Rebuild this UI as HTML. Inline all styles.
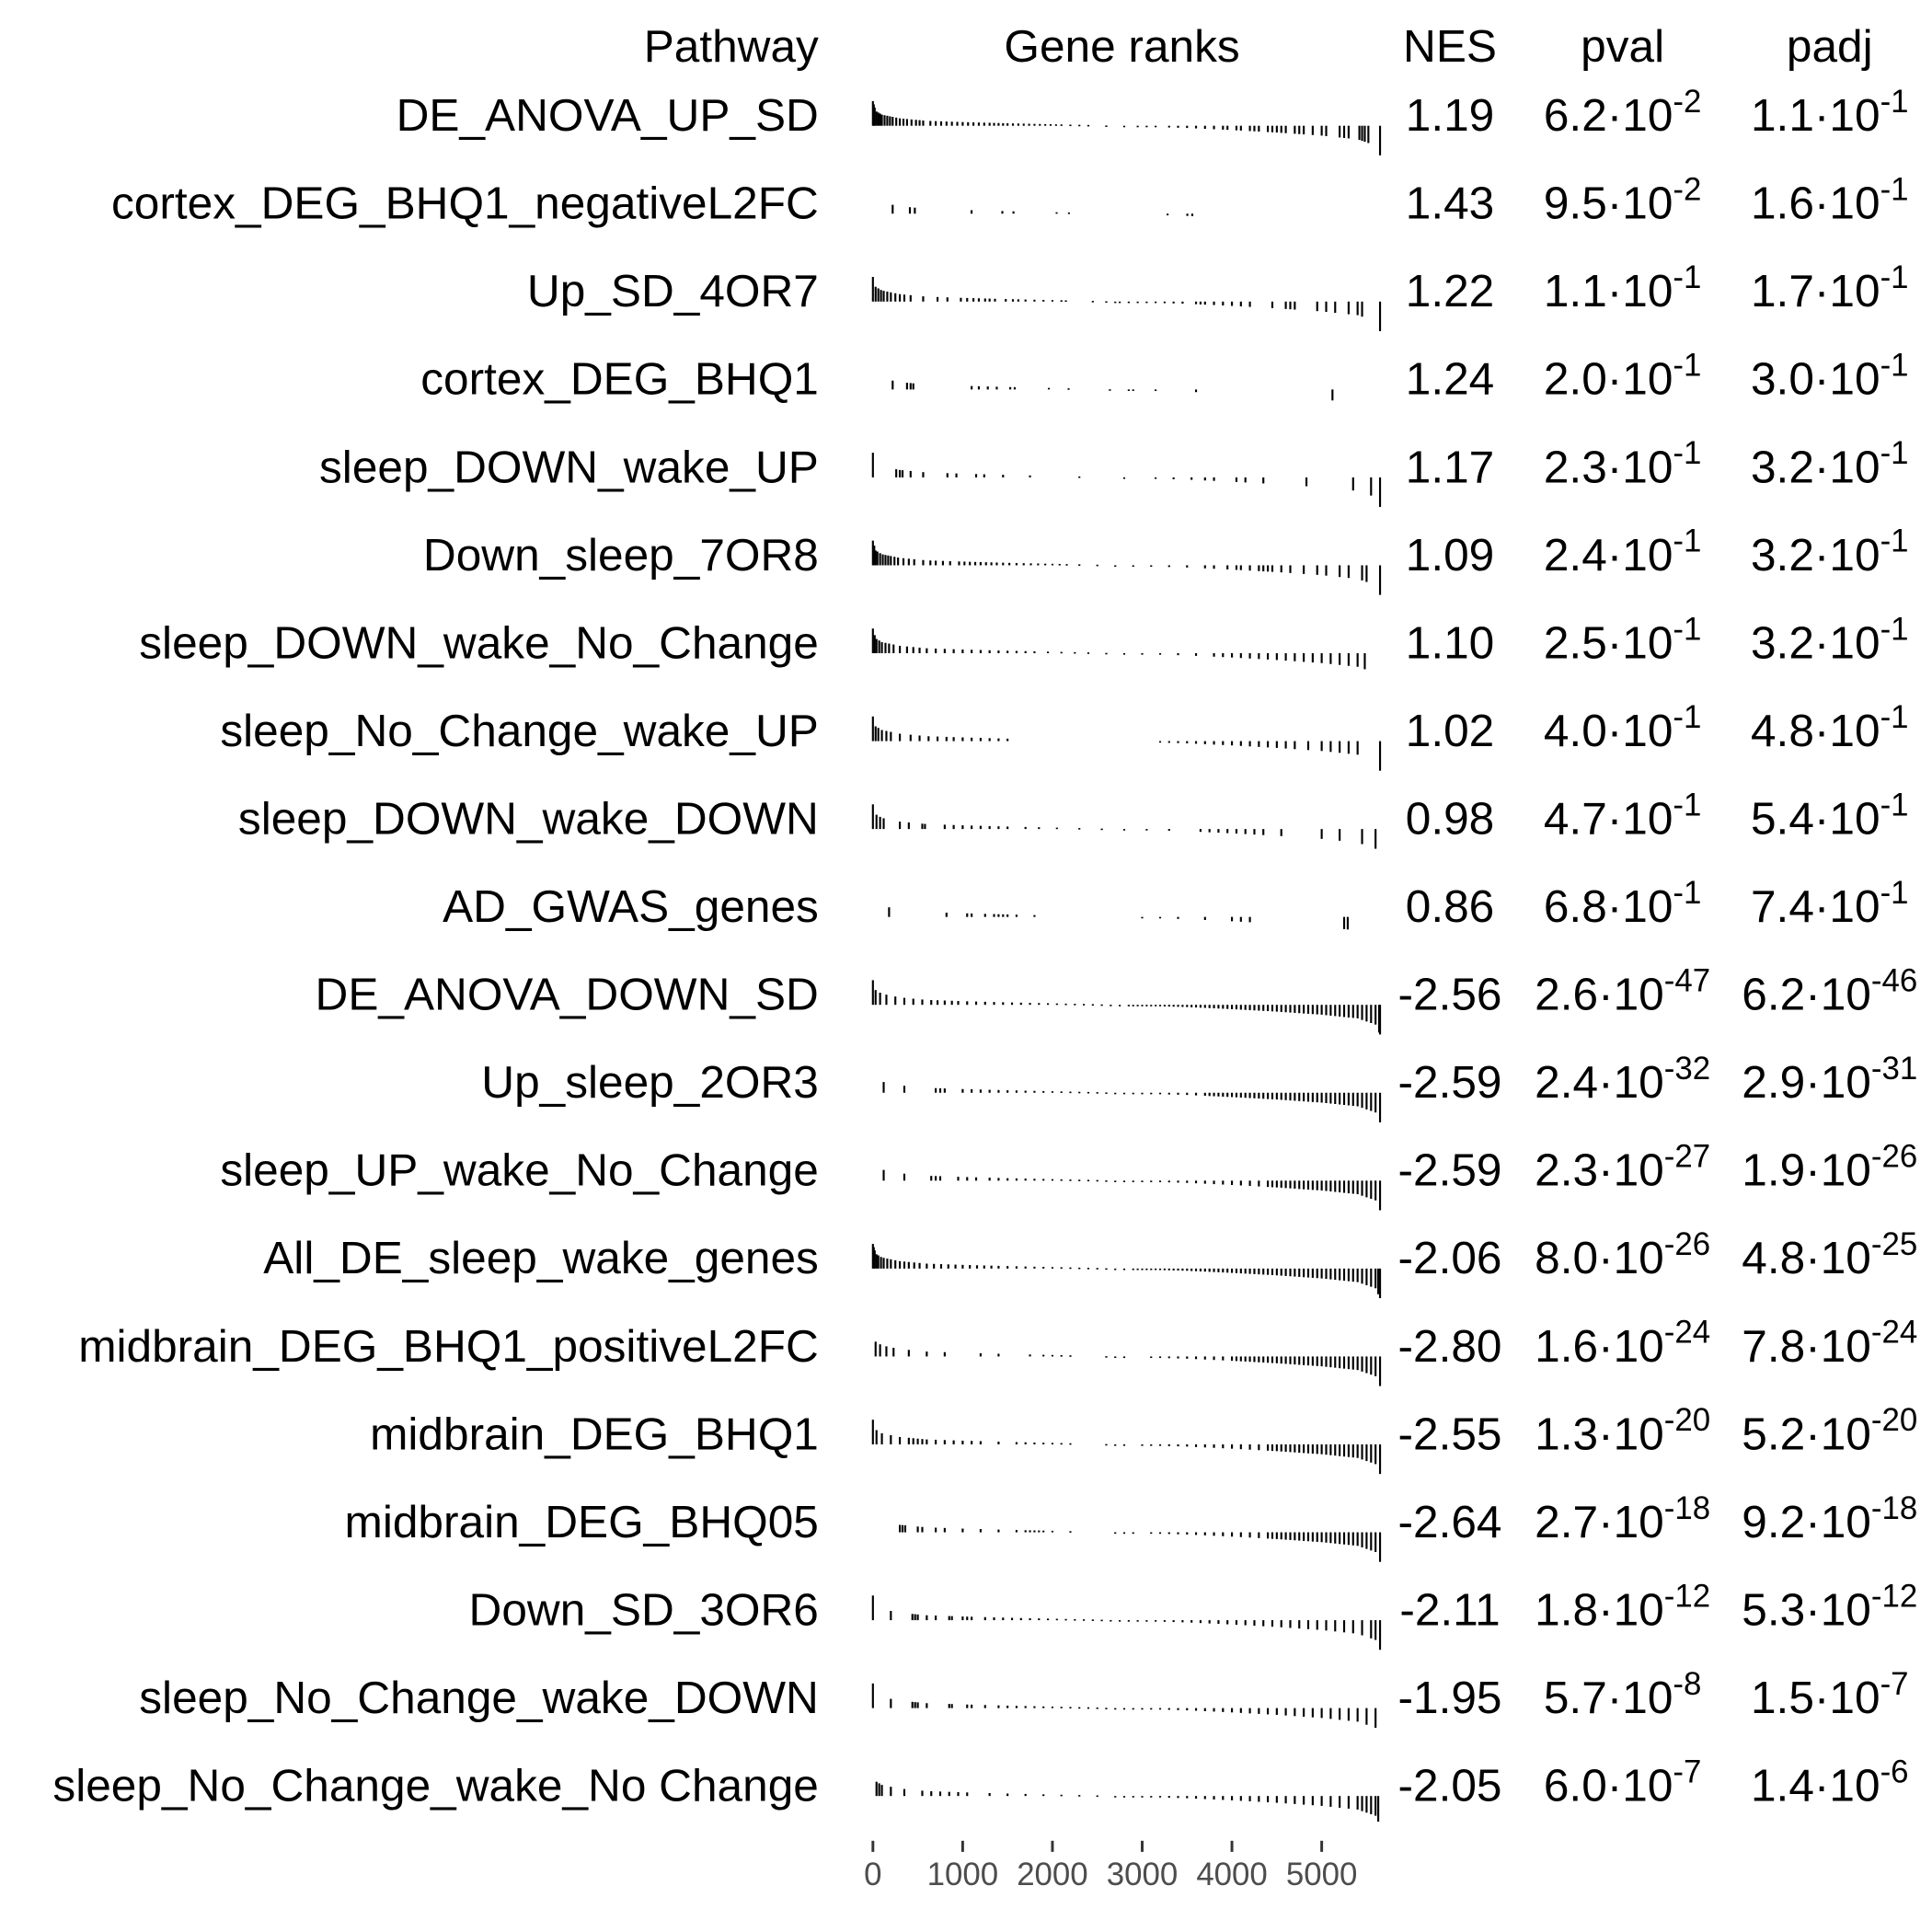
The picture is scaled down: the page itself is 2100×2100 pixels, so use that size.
<!DOCTYPE html>
<html><head><meta charset="utf-8">
<style>
html,body{margin:0;padding:0;background:#fff;}
svg{display:block;font-family:"Liberation Sans",Arial,sans-serif;}
</style></head>
<body>
<svg id="chart" width="2100" height="2100" viewBox="0 0 1567 1567" xmlns="http://www.w3.org/2000/svg">
<g id="headers" font-size="37" fill="#000">
  <text x="664" y="50" text-anchor="end">Pathway</text>
  <text x="910" y="50" text-anchor="middle">Gene ranks</text>
  <text x="1176" y="50" text-anchor="middle">NES</text>
  <text x="1316" y="50" text-anchor="middle">pval</text>
  <text x="1484" y="50" text-anchor="middle">padj</text>
</g>
<g id="rows"></g>
<g id="axis"></g>
</svg>
<script>
const pathways = ["DE_ANOVA_UP_SD","cortex_DEG_BHQ1_negativeL2FC","Up_SD_4OR7","cortex_DEG_BHQ1","sleep_DOWN_wake_UP","Down_sleep_7OR8","sleep_DOWN_wake_No_Change","sleep_No_Change_wake_UP","sleep_DOWN_wake_DOWN","AD_GWAS_genes","DE_ANOVA_DOWN_SD","Up_sleep_2OR3","sleep_UP_wake_No_Change","All_DE_sleep_wake_genes","midbrain_DEG_BHQ1_positiveL2FC","midbrain_DEG_BHQ1","midbrain_DEG_BHQ05","Down_SD_3OR6","sleep_No_Change_wake_DOWN","sleep_No_Change_wake_No Change"];
const nes = ["1.19","1.43","1.22","1.24","1.17","1.09","1.10","1.02","0.98","0.86","-2.56","-2.59","-2.59","-2.06","-2.80","-2.55","-2.64","-2.11","-1.95","-2.05"];
const pvalMant = ["6.2","9.5","1.1","2.0","2.3","2.4","2.5","4.0","4.7","6.8","2.6","2.4","2.3","8.0","1.6","1.3","2.7","1.8","5.7","6.0"];
const pvalExp = ["-2","-2","-1","-1","-1","-1","-1","-1","-1","-1","-47","-32","-27","-26","-24","-20","-18","-12","-8","-7"];
const padjMant = ["1.1","1.6","1.7","3.0","3.2","3.2","3.2","4.8","5.4","7.4","6.2","2.9","1.9","4.8","7.8","5.2","9.2","5.3","1.5","1.4"];
const padjExp = ["-1","-1","-1","-1","-1","-1","-1","-1","-1","-1","-46","-31","-26","-25","-24","-20","-18","-12","-7","-6"];
// ranked statistic curve (anchor ranks and stat value)
const statRanks = [0,30,100,300,600,1000,1500,2000,2500,3000,3500,4000,4500,5000,5400,5600,5650];
const statVals  = [20,12,9,6,4,3,2,1.2,0.5,-0.8,-1.8,-3.5,-5.5,-8,-11,-16,-24];
const xTicks = [0,1000,2000,3000,4000,5000];
const geneRanks = [
[0,10,20,40,60,80,100,130,160,190,220,260,300,340,380,430,480,520,560,640,700,760,820,880,940,1000,1060,1120,1180,1240,1300,1350,1400,1450,1500,1560,1620,1680,1740,1800,1860,1920,1980,2040,2100,2200,2300,2400,2600,2800,2950,3050,3150,3300,3400,3500,3600,3700,3800,3900,3950,4050,4100,4200,4250,4300,4400,4450,4500,4550,4600,4700,4750,4800,4900,5000,5050,5200,5250,5300,5420,5450,5480,5520,5650],
[220,412,467,1099,1442,1566,2047,2184,3283,3503,3558],
[0,30,60,90,120,160,200,250,300,350,420,560,720,830,980,1050,1120,1180,1250,1300,1360,1480,1560,1620,1700,1800,1900,2000,2100,2150,2450,2600,2700,2750,2850,2950,3050,3150,3250,3350,3450,3600,3650,3700,3800,3900,4000,4100,4200,4450,4600,4650,4700,4950,5050,5150,5300,5400,5450,5650],
[220,380,420,450,1100,1180,1280,1380,1530,1580,1960,2180,2640,2850,2900,3150,3600,5120],
[0,260,300,330,420,560,830,930,1150,1240,1450,1750,2300,2800,3150,3350,3550,3700,3800,4050,4150,4350,4830,5350,5550,5650],
[0,15,30,50,80,110,140,170,200,240,280,340,400,460,560,640,700,780,860,960,1020,1080,1140,1200,1260,1320,1380,1450,1520,1600,1680,1760,1840,1920,2000,2080,2160,2300,2500,2700,2900,3100,3300,3500,3700,3800,3950,4050,4100,4200,4300,4350,4400,4450,4550,4650,4800,4950,5050,5200,5300,5450,5500,5650],
[0,20,40,70,100,140,180,230,300,380,450,520,600,700,800,900,1000,1100,1200,1300,1400,1500,1600,1700,1800,1950,2100,2250,2400,2600,2800,3000,3200,3400,3600,3800,3900,4000,4100,4200,4300,4400,4500,4600,4700,4800,4900,5000,5100,5200,5300,5400,5480],
[0,30,60,100,150,200,300,420,520,620,720,820,900,1000,1100,1200,1300,1400,1500,3200,3300,3400,3500,3600,3700,3800,3900,4000,4100,4200,4300,4400,4500,4600,4700,4850,5000,5100,5200,5300,5400,5650],
[0,40,80,120,300,400,550,580,800,900,1000,1100,1200,1300,1400,1500,1700,1850,2050,2300,2550,2800,3050,3300,3650,3750,3850,3950,4050,4150,4250,4350,4550,5000,5200,5450,5600],
[180,820,1050,1100,1250,1350,1400,1450,1500,1600,1800,3000,3200,3400,3700,4000,4100,4200,5250,5290],
[0,30,80,150,250,350,450,550,650,720,800,880,950,1050,1150,1250,1350,1450,1550,1650,1750,1850,1950,2050,2150,2250,2350,2450,2550,2650,2750,2850,2900,2950,3000,3050,3100,3150,3200,3250,3300,3350,3400,3450,3500,3550,3600,3650,3700,3750,3800,3850,3900,3950,4000,4050,4100,4150,4200,4250,4300,4350,4400,4450,4500,4550,4600,4650,4700,4750,4800,4850,4900,4950,5000,5050,5100,5150,5200,5250,5300,5350,5400,5450,5500,5550,5600,5640,5650],
[120,350,700,750,800,1000,1100,1200,1300,1400,1500,1600,1700,1800,1900,2000,2100,2200,2300,2400,2500,2600,2700,2800,2900,3000,3100,3200,3300,3400,3500,3600,3700,3750,3800,3850,3900,3950,4000,4050,4100,4150,4200,4250,4300,4350,4400,4450,4500,4550,4600,4650,4700,4750,4800,4850,4900,4950,5000,5050,5100,5150,5200,5250,5300,5350,5400,5450,5500,5550,5600,5650],
[120,350,650,700,750,950,1050,1150,1300,1400,1500,1600,1700,1800,1900,2000,2100,2200,2300,2400,2500,2600,2700,2800,2900,3000,3100,3200,3300,3400,3500,3600,3700,3800,3900,4000,4100,4200,4300,4400,4450,4500,4550,4600,4650,4700,4750,4800,4850,4900,4950,5000,5050,5100,5150,5200,5250,5300,5350,5400,5450,5500,5550,5600,5650],
[0,10,20,40,60,90,120,160,200,250,300,350,400,460,520,600,680,760,840,920,1000,1080,1160,1240,1320,1400,1500,1600,1700,1800,1900,2000,2100,2200,2300,2400,2500,2600,2700,2800,2900,2950,3000,3050,3100,3150,3200,3250,3300,3350,3400,3450,3500,3550,3600,3650,3700,3750,3800,3850,3900,3950,4000,4050,4100,4150,4200,4250,4300,4350,4400,4450,4500,4550,4600,4650,4700,4750,4800,4850,4900,4950,5000,5050,5100,5150,5200,5250,5300,5350,5400,5450,5500,5550,5600,5630,5650],
[30,80,150,230,400,600,800,1200,1400,1750,1900,2000,2100,2200,2600,2700,2800,3100,3200,3300,3400,3500,3600,3700,3800,3900,4000,4050,4100,4150,4200,4250,4300,4350,4400,4450,4500,4550,4600,4650,4700,4750,4800,4850,4900,4950,5000,5050,5100,5150,5200,5250,5300,5350,5400,5450,5500,5550,5600,5650],
[0,40,100,200,300,400,450,500,550,600,700,800,900,1000,1100,1200,1400,1600,1700,1800,1900,2000,2100,2200,2600,2700,2800,3000,3100,3200,3300,3400,3500,3600,3700,3800,3900,4000,4100,4200,4300,4400,4450,4500,4550,4600,4650,4700,4750,4800,4850,4900,4950,5000,5050,5100,5150,5200,5250,5300,5350,5400,5450,5500,5550,5600,5650],
[300,330,360,500,550,700,800,1000,1200,1400,1600,1700,1750,1800,1850,1900,2000,2200,2700,2800,2900,3100,3200,3300,3400,3500,3600,3700,3800,3900,4000,4100,4200,4300,4400,4450,4500,4550,4600,4650,4700,4750,4800,4850,4900,4950,5000,5050,5100,5150,5200,5250,5300,5350,5400,5450,5500,5550,5600,5650],
[0,200,440,470,500,600,700,850,880,1000,1050,1100,1250,1350,1450,1550,1650,1750,1850,1950,2050,2150,2250,2350,2450,2550,2650,2750,2850,2950,3050,3150,3250,3350,3450,3550,3650,3750,3850,3950,4050,4150,4250,4350,4450,4550,4650,4750,4850,4950,5050,5150,5250,5350,5450,5550,5600,5650],
[0,200,440,470,500,600,850,880,1050,1100,1250,1400,1500,1600,1700,1800,1900,2000,2100,2200,2300,2400,2500,2600,2700,2800,2900,3000,3100,3200,3300,3400,3500,3600,3700,3800,3900,4000,4100,4200,4300,4400,4500,4600,4700,4800,4900,5000,5100,5200,5300,5400,5500,5600],
[40,70,100,200,350,550,650,750,850,950,1050,1300,1500,1700,1900,2100,2300,2500,2700,2800,2900,3000,3100,3200,3300,3400,3500,3600,3700,3800,3900,4000,4100,4200,4300,4400,4500,4600,4700,4800,4900,5000,5100,5200,5300,5400,5450,5500,5550,5600,5630]
];
const NS = "http://www.w3.org/2000/svg";
const x0 = 708, pxPerRank = 0.0728;
function xScale(r){ return x0 + r * pxPerRank; }
function rowY(i){ return 93 + i * 71.3; }
function stat(r){
  for (let k = 1; k < statRanks.length; k++) {
    if (r <= statRanks[k]) {
      const t = (r - statRanks[k-1]) / (statRanks[k] - statRanks[k-1]);
      return statVals[k-1] + t * (statVals[k] - statVals[k-1]);
    }
  }
  return statVals[statVals.length-1];
}
function mk(tag, attrs){ const e = document.createElementNS(NS, tag); for (const k in attrs) e.setAttribute(k, attrs[k]); return e; }
function sciText(x, y, mant, exp){
  const t = mk('text', {x:x, y:y, 'text-anchor':'middle', 'font-size':37});
  t.appendChild(document.createTextNode(mant + '\u00B710'));
  const s = mk('tspan', {dy:-15, 'font-size':26});
  s.textContent = exp;
  t.appendChild(s);
  return t;
}
const rowsG = document.getElementById('rows');
pathways.forEach((p, i) => {
  const y = rowY(i);
  const g = mk('g', {});
  
  
  const lab = mk('text', {x:664, y:y+13, 'text-anchor':'end', 'font-size':37});
  lab.textContent = p;
  
  
  g.appendChild(lab);
  const base = y + 9;
  geneRanks[i].forEach(r => {
    const h = stat(r);
    const bx = xScale(r);
    const bar = mk('rect', {x:bx-0.8, width:1.6, y: h >= 0 ? base - h : base, height: Math.max(Math.abs(h), 1.2), fill:'#000'});
    
    
    g.appendChild(bar);
  });
  const n = mk('text', {x:1176, y:y+13, 'text-anchor':'middle', 'font-size':37});
  n.textContent = nes[i];
  
  
  g.appendChild(n);
  const pv = sciText(1316, y+13, pvalMant[i], pvalExp[i]);
  
  
  g.appendChild(pv);
  const pa = sciText(1484, y+13, padjMant[i], padjExp[i]);
  
  
  g.appendChild(pa);
  rowsG.appendChild(g);
});
const axisG = document.getElementById('axis');
xTicks.forEach(v => {
  const x = xScale(v);
  const tk = mk('line', {x1:x, x2:x, y1:1493, y2:1502, stroke:'#333', 'stroke-width':2.2});
  
  
  axisG.appendChild(tk);
  const tl = mk('text', {x:x, y:1529, 'text-anchor':'middle', 'font-size':26, fill:'#4d4d4d'});
  tl.textContent = String(v);
  
  
  axisG.appendChild(tl);
});
</script>
</body></html>
